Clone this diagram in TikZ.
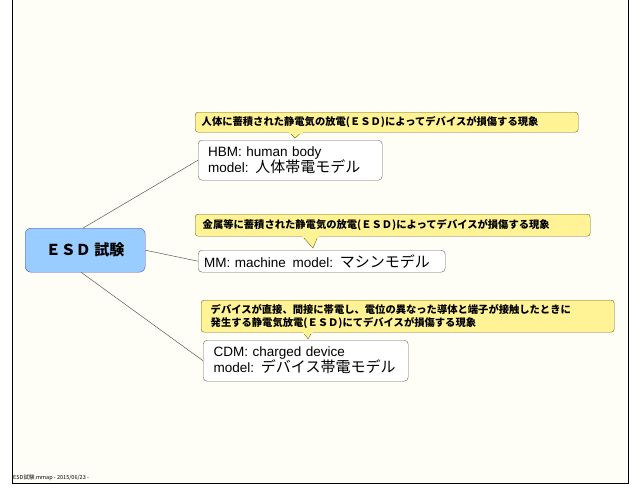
\documentclass[tikz,border=0pt]{standalone}
\usepackage{fontspec}
\setmainfont{Noto Sans CJK JP}
\newfontfamily\lat{Liberation Sans}
\newfontfamily\jp{Noto Sans CJK JP}
\definecolor{notey}{RGB}{255,243,150}
\begin{document}
\begin{tikzpicture}[x=1pt,y=-1pt,
  topic/.style={draw=gray!80!black,fill=white,rounded corners=4pt,align=left,inner sep=0pt,anchor=north west},
  note/.style={draw=olive!70!black,fill=notey,rounded corners=3pt,align=left,inner sep=0pt,anchor=north west,font=\bfseries\fontsize{10.3}{13}\selectfont},
  link/.style={draw=gray!70!black,line width=0.5pt}]
\useasboundingbox (0,0) rectangle (638,493);
\fill[white] (0,0) rectangle (638,493);
\draw[fill={rgb,255:red,255;green,254;blue,246}, line width=0.6pt] (12,-2) rectangle (628,483);
\node[anchor=south west,inner sep=0pt,font=\fontsize{5.5}{6}\selectfont] (foot) at (13,481) {ESD試験.mmap - 2015/06/23 -};
% root
\node[draw=gray!60!blue,fill={rgb,255:red,153;green,204;blue,255},rounded corners=6pt,minimum width=120pt,minimum height=44pt,anchor=north west,font=\bfseries\fontsize{15}{17}\selectfont] (root) at (25,228) {ＥＳＤ 試験};
% topics
\node[topic,minimum width=184pt,minimum height=40pt,text width=180pt,font=\lat\fontsize{13.5}{16}\selectfont] (hbm) at (198,140) {\hspace*{8pt}HBM: human body\\\hspace*{8pt}model: {\jp\fontsize{15}{15}\selectfont 人体帯電モデル}};
\node[topic,minimum width=247pt,minimum height=22pt,text width=245pt,font=\lat\fontsize{13.5}{16}\selectfont] (mm) at (198,250) {\hspace*{5pt}MM: machine\, model: {\jp\fontsize{15}{15}\selectfont マシンモデル}};
\node[topic,minimum width=205pt,minimum height=41pt,text width=200pt,font=\lat\fontsize{13.5}{16}\selectfont] (cdm) at (203,340) {\hspace*{8pt}CDM: charged device\\\hspace*{8pt}model: {\jp\fontsize{15}{15}\selectfont デバイス帯電モデル}};
% notes
\node[note,minimum width=383pt,minimum height=20pt,text width=380pt] (n1) at (195,112) {\hspace*{5pt}人体に蓄積された静電気の放電(ＥＳＤ)によってデバイスが損傷する現象};
\node[note,minimum width=395pt,minimum height=22pt,text width=390pt] (n2) at (195,214) {\hspace*{5pt}金属等に蓄積された静電気の放電(ＥＳＤ)によってデバイスが損傷する現象};
\node[note,minimum width=413pt,minimum height=32pt,text width=410pt] (n3) at (201,300) {\hspace*{8pt}デバイスが直接、間接に帯電し、電位の異なった導体と端子が接触したときに\\\hspace*{8pt}発生する静電気放電(ＥＳＤ)にてデバイスが損傷する現象};
\coordinate (p1) at (295,138);
\coordinate (p2) at (313,248);
\coordinate (p3) at (308,339);
\filldraw[draw=olive!70!black,fill=notey] (289,132) -- (p1) -- (302,132);
\fill[notey] (288.5,131) rectangle (302.5,133.5);
\filldraw[draw=olive!70!black,fill=notey] (302,236) -- (p2) -- (318,236);
\fill[notey] (301.5,235) rectangle (318.5,237.5);
\filldraw[draw=olive!70!black,fill=notey] (303,332) -- (p3) -- (312,332);
\fill[notey] (302.5,331) rectangle (312.5,333.5);
% connectors
\draw[link] ([xshift=-2pt]root.north) -- (hbm.west);
\draw[link] (root.east) -- (mm.west);
\draw[link] ([xshift=-4pt]root.south) -- (cdm.west);
\end{tikzpicture}
\end{document}
